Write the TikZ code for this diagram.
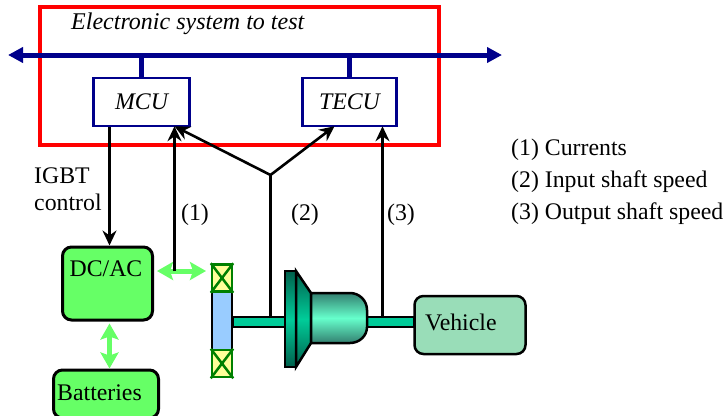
\documentclass[tikz,border=0pt]{standalone}
\usepackage{fontspec}
\setmainfont{Liberation Serif}
\usetikzlibrary{arrows.meta}
\definecolor{busblue}{RGB}{0,0,139}
\definecolor{arrowgreen}{RGB}{102,255,102}
\definecolor{coilgreen}{RGB}{0,128,0}
\definecolor{coilyellow}{RGB}{255,255,153}
\definecolor{rotorblue}{RGB}{153,204,255}
\definecolor{shaftteal}{RGB}{0,204,153}
\definecolor{darkteal}{RGB}{0,96,76}
\definecolor{lightteal}{RGB}{102,255,204}
\definecolor{vehiclegreen}{RGB}{153,221,184}
\tikzset{
  lbl/.style={inner sep=0pt,font=\fontsize{23.8}{28}\selectfont},
  ecu/.style={draw=busblue,line width=2.5pt,fill=white,inner sep=0pt,minimum height=48pt,font=\fontsize{23.8}{28}\selectfont\itshape},
  power/.style={draw=black,line width=3pt,rounded corners=9pt,fill=arrowgreen,inner sep=0pt},
  coil/.style={draw=coilgreen,line width=2.5pt,fill=coilyellow,minimum width=20pt,minimum height=27pt,inner sep=0pt},
  sig/.style={draw=black,line width=2.6pt,-{Stealth[length=15pt,width=14pt,inset=5pt]}},
  wire/.style={draw=black,line width=2.6pt},
  pwr/.style={draw=arrowgreen,line width=5pt,{Stealth[length=16pt,width=18pt,inset=3pt]}-{Stealth[length=16pt,width=18pt,inset=3pt]}},
  bus/.style={draw=busblue,line width=5pt}
}
\begin{document}
\begin{tikzpicture}[x=1pt,y=-1pt]
\useasboundingbox (0,0) rectangle (727,415);
% electronic part
\node[draw=red,line width=3.5pt,minimum width=399pt,minimum height=138pt,inner sep=0pt] (sys) at (239.5,76) {};
\node[lbl,anchor=west,font=\fontsize{24}{28}\selectfont\itshape] (title) at (71,24) {Electronic system to test};
\coordinate (busl) at (8,55);\coordinate (busr) at (502,55);
\draw[bus,{Triangle[length=15pt,width=15pt]}-{Triangle[length=15pt,width=15pt]}] (busl) -- (busr);
\node[ecu,minimum width=96pt] (MCU) at (141.5,102) {MCU};
\node[ecu,minimum width=94pt] (TECU) at (349.5,102) {TECU};
\draw[bus] (MCU.north) -- (MCU.north |- busl);
\draw[bus] (TECU.north) -- (TECU.north |- busl);
% power part
\node[power,minimum width=90pt,minimum height=73pt] (DCAC) at (107.5,283.5) {};
\node[lbl] (DCACtxt) at (106,269) {DC/AC};
\node[power,minimum width=105pt,minimum height=48pt] (Bat) at (106,394) {};
\node[lbl,anchor=west] (Battxt) at (57,393) {Batteries};
% machine
\node[draw=black,line width=2.5pt,fill=rotorblue,minimum width=20pt,minimum height=64pt,inner sep=0pt] (rotor) at (222,320.5) {};
\node[coil] (coilT) at (222,278) {};
\node[coil] (coilB) at (222,363.5) {};
\draw[coilgreen,line width=2.5pt] (coilT.north west) -- (coilT.south east) (coilT.north east) -- (coilT.south west);
\draw[coilgreen,line width=2.5pt] (coilB.north west) -- (coilB.south east) (coilB.north east) -- (coilB.south west);
% gearbox
\node[draw=black,line width=2.5pt,fill=shaftteal,minimum width=54pt,minimum height=10pt,inner sep=0pt] (shaftI) at (260,322) {};
\node[draw=black,line width=2.5pt,fill=shaftteal,minimum width=48pt,minimum height=10pt,inner sep=0pt] (shaftO) at (390,322) {};
\draw[black,line width=2.5pt,top color=darkteal,bottom color=darkteal,middle color=shaftteal] (285,271) rectangle (296,367);
\draw[black,line width=2.5pt,top color=darkteal,bottom color=darkteal,middle color=shaftteal] (296,271) -- (311,293) -- (311,343) -- (296,367) -- cycle;
\draw[black,line width=2.5pt,top color=darkteal!80,bottom color=darkteal!80,middle color=lightteal] (311,293) -- (350,293) to[out=0,in=90] (367,310) -- (367,327) to[out=270,in=0] (350,343) -- (311,343) -- cycle;
\node[draw=black,line width=2.5pt,rounded corners=9pt,fill=vehiclegreen,minimum width=111pt,minimum height=58pt,inner sep=0pt] (veh) at (470,325) {};
\node[lbl,anchor=west] (vehtxt) at (425,322) {Vehicle};
% signals
\coordinate (j) at (270.5,175);\coordinate (s1) at (174.5,271);
\coordinate (s2) at (270.5,318);\coordinate (s3) at (382.5,318);
\draw[pwr] (DCAC.east |- s1) ++(3,0) -- (206,271);
\draw[pwr] (DCAC.south) ++(2,2) -- (Bat.north -| 109.5,0);
\draw[sig] ([xshift=-32pt]MCU.south) -- ([xshift=2pt]DCAC.north);
\draw[sig] (s1) -- ([xshift=33pt,yshift=1pt]MCU.south);
\draw[wire] (s2) -- (j);
\draw[sig] (j) -- ([xshift=33pt,yshift=1pt]MCU.south);
\draw[sig] (j) -- ([xshift=-15pt,yshift=1pt]TECU.south);
\draw[sig] (s3) -- ([xshift=33pt,yshift=1pt]TECU.south);
% labels
\node[lbl,anchor=west] (igbt) at (34,176) {IGBT};
\node[lbl,anchor=west] (ctrl) at (34,202) {control};
\node[lbl] (l1) at (195,215) {(1)};
\node[lbl] (l2) at (305,215) {(2)};
\node[lbl] (l3) at (401,215) {(3)};
\node[lbl,anchor=west] (k1) at (511,150) {(1) Currents};
\node[lbl,anchor=west] (k2) at (511,182) {(2) Input shaft speed};
\node[lbl,anchor=west] (k3) at (511,214) {(3) Output shaft speed};
\end{tikzpicture}
\end{document}
